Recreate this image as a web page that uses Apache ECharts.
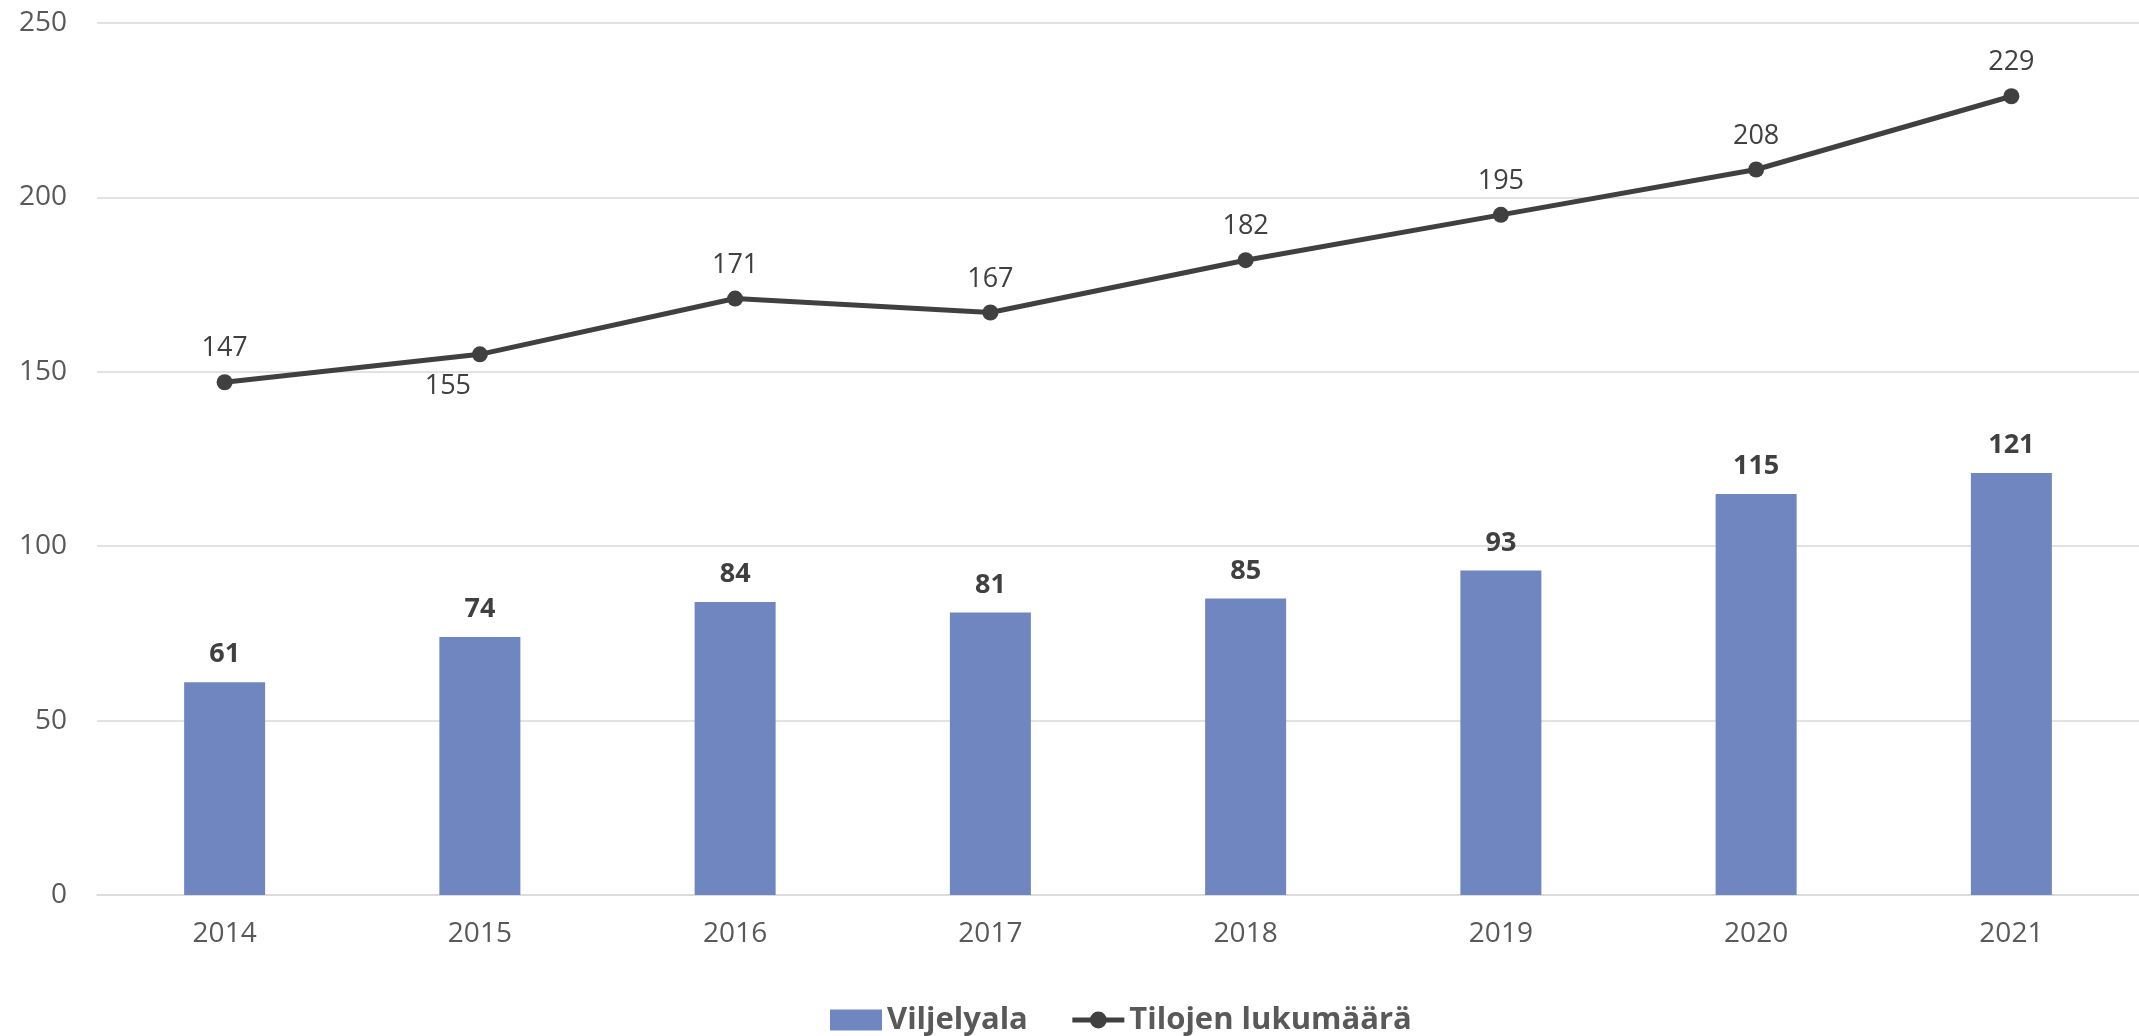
<!DOCTYPE html>
<html><head><meta charset="utf-8">
<script src="https://cdn.jsdelivr.net/npm/echarts@6/dist/echarts.min.js"></script>
<style>html,body{margin:0;padding:0;background:#fff}#c{width:2139px;height:1036px}</style>
</head><body><div id="c"></div>
<script>
const years = ['2014','2015','2016','2017','2018','2019','2020','2021'];
const viljelyala = [61, 74, 84, 81, 85, 93, 115, 121];
const tilojenLukumaara = [147, 155, 171, 167, 182, 195, 208, 229];
const belowLabelIdx = [1];
const FONT = '"Open Sans", "Liberation Sans", sans-serif';

const chart = echarts.init(document.getElementById('c'));
chart.setOption({
  animation: false,
  textStyle: { fontFamily: FONT },
  grid: { left: 97, width: 2046, top: 23, bottom: 141 },
  legend: {
    top: 1003, left: 830, itemGap: 42, itemWidth: 52, itemHeight: 21, padding: 0,
    lineStyle: { width: 5 },
    textStyle: { fontSize: 31, lineHeight: 34, fontWeight: 'bold', color: '#595959', fontFamily: FONT },
    data: [
      { name: 'Viljelyala', icon: 'rect' },
      { name: 'Tilojen lukumäärä' }
    ]
  },
  xAxis: {
    type: 'category', data: years,
    axisLine: { lineStyle: { color: '#D9D9D9', width: 1.5 } },
    axisTick: { show: false },
    axisLabel: { fontSize: 28, color: '#595959', margin: 25, fontFamily: FONT }
  },
  yAxis: {
    type: 'value', min: 0, max: 250, interval: 50,
    axisLine: { show: false }, axisTick: { show: false },
    splitLine: { lineStyle: { color: '#D9D9D9', width: 1.5 } },
    axisLabel: { fontSize: 28, color: '#595959', margin: 30, fontFamily: FONT }
  },
  series: [
    {
      name: 'Viljelyala', type: 'bar', data: viljelyala, barWidth: 81,
      itemStyle: { color: '#7086C0' },
      label: { show: true, position: 'top', distance: 14, fontSize: 27, fontWeight: 'bold', color: '#404040', fontFamily: FONT }
    },
    {
      name: 'Tilojen lukumäärä', type: 'line',
      data: tilojenLukumaara.map((v, i) => belowLabelIdx.includes(i)
        ? { value: v, label: { position: 'bottom', distance: 10, offset: [-32, 0] } } : v),
      symbol: 'circle', symbolSize: 16,
      lineStyle: { color: '#404040', width: 5 },
      itemStyle: { color: '#404040' },
      label: { show: true, position: 'top', distance: 12, fontSize: 27, color: '#404040', fontFamily: FONT }
    }
  ]
});
</script></body></html>
